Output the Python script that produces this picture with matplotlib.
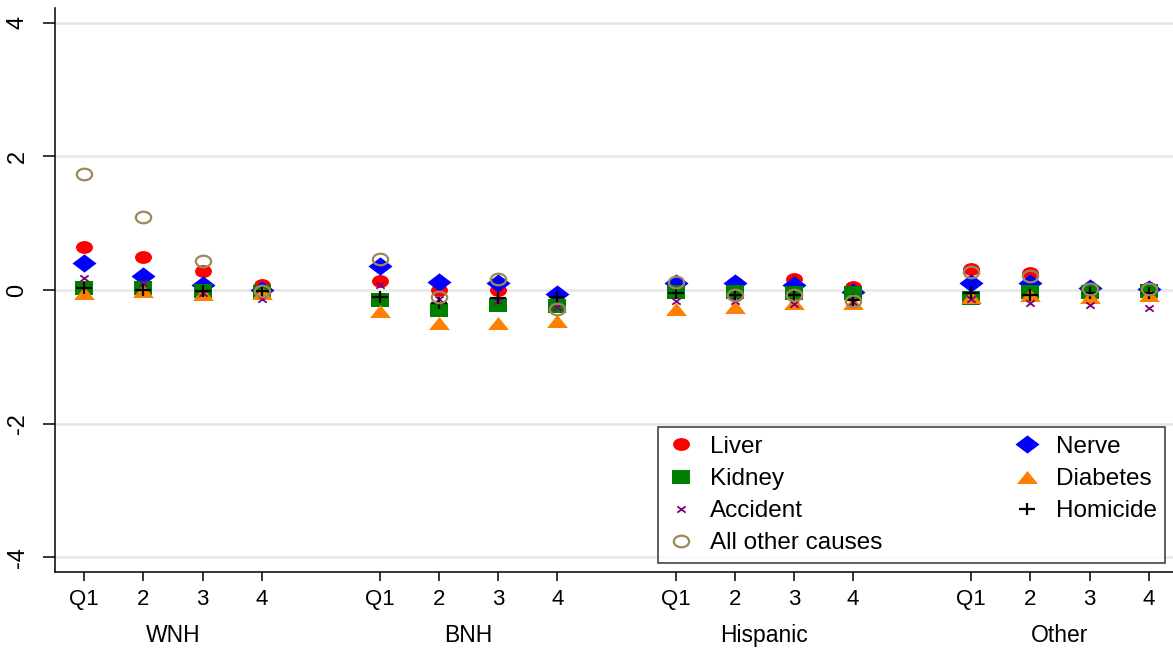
import numpy as np
import matplotlib
matplotlib.use("Agg")
import matplotlib.pyplot as plt
from matplotlib.path import Path
from matplotlib.transforms import Affine2D, blended_transform_factory

plt.rcParams['font.family'] = ['Liberation Sans', 'DejaVu Sans']

groups = ["WNH", "BNH", "Hispanic", "Other"]
quartiles = ["Q1", "2", "3", "4"]

# effects by group (WNH, BNH, Hispanic, Other) x quartile (Q1..4)
liver = [0.64, 0.50, 0.29, 0.08,
         0.13, 0.00, 0.00, -0.18,
         0.10, 0.10, 0.16, 0.05,
         0.32, 0.25, 0.02, 0.03]
nerve = [0.41, 0.21, 0.08, 0.00,
         0.36, 0.12, 0.10, -0.06,
         0.10, 0.10, 0.07, -0.03,
         0.11, 0.10, 0.03, 0.01]
kidney = [0.03, 0.03, -0.02, -0.03,
          -0.15, -0.30, -0.22, -0.24,
          -0.03, -0.03, -0.05, -0.05,
          -0.12, -0.03, -0.03, -0.02]
diabetes = [-0.05, -0.02, -0.06, -0.05,
            -0.31, -0.50, -0.50, -0.46,
            -0.29, -0.25, -0.19, -0.19,
            -0.10, -0.07, -0.10, -0.07]
accident = [0.18, 0.10, -0.05, -0.13,
            0.08, -0.13, -0.17, -0.26,
            -0.17, -0.17, -0.21, -0.18,
            -0.13, -0.19, -0.23, -0.27]
homicide = [0.03, 0.00, -0.02, -0.02,
            -0.10, -0.20, -0.12, -0.10,
            -0.05, -0.07, -0.07, -0.15,
            -0.05, -0.07, -0.05, -0.05]
other_causes = [1.74, 1.09, 0.43, -0.02,
                0.47, -0.10, 0.16, -0.29,
                0.12, -0.07, -0.07, -0.17,
                0.27, 0.21, 0.01, 0.02]

# x positions: 4 quartiles per group, one empty slot between groups
xpos = [g * 5 + q + 1 for g in range(len(groups)) for q in range(len(quartiles))]

# markers are a bit wider than tall
sx = 1.32
ellipse = Path.unit_circle().transformed(Affine2D().scale(sx, 1.0))
square = Path([(-sx, -1), (sx, -1), (sx, 1), (-sx, 1), (-sx, -1)],
              [Path.MOVETO, Path.LINETO, Path.LINETO, Path.LINETO, Path.CLOSEPOLY])
diamond = Path([(0, 1), (sx, 0), (0, -1), (-sx, 0), (0, 1)],
               [Path.MOVETO, Path.LINETO, Path.LINETO, Path.LINETO, Path.CLOSEPOLY])
triangle = Path([(0, 0.5), (0.8, -0.5), (-0.8, -0.5), (0, 0.5)],
                [Path.MOVETO, Path.LINETO, Path.LINETO, Path.CLOSEPOLY])
cross = Path([(-sx, -1), (sx, 1), (-sx, 1), (sx, -1)],
             [Path.MOVETO, Path.LINETO, Path.MOVETO, Path.LINETO])
plus = Path([(-1.2, 0), (1.2, 0), (0, -1), (0, 1)],
            [Path.MOVETO, Path.LINETO, Path.MOVETO, Path.LINETO])

fig = plt.figure(figsize=(11.73, 6.5), dpi=100)
ax = fig.add_axes([55 / 1173, 78 / 650, 1 - 55 / 1173, 564 / 650])

h = {}
h['Liver'], = ax.plot(xpos, liver, ls='none', marker=ellipse, ms=12.2,
                      mfc='#ff0000', mec='#ff0000', mew=0)
h['Nerve'], = ax.plot(xpos, nerve, ls='none', marker=diamond, ms=17.3,
                      mfc='#0000ff', mec='#0000ff', mew=0)
h['Kidney'], = ax.plot(xpos, kidney, ls='none', marker=square, ms=13,
                       mfc='#008000', mec='#008000', mew=0)
h['Diabetes'], = ax.plot(xpos, diabetes, ls='none', marker=triangle, ms=15,
                         mfc='#ff8000', mec='#ff8000', mew=0)
h['Accident'], = ax.plot(xpos, accident, ls='none', marker=cross, ms=6,
                         mec='#800080', mew=1.3)
h['Homicide'], = ax.plot(xpos, homicide, ls='none', marker=plus, ms=11,
                         mec='black', mew=1.6)
h['All other causes'], = ax.plot(xpos, other_causes, ls='none', marker=ellipse,
                                 ms=11, mfc='none', mec='#9c8858', mew=1.6)

ax.set_xlim(0.505, 19.41)
ax.set_ylim(-4.22, 4.22)
ax.set_yticks([-4, -2, 0, 2, 4])
ax.set_yticklabels(["-4", "-2", "0", "2", "4"], rotation=90, va='center', fontsize=17)
ax.set_xticks(xpos)
ax.set_xticklabels(quartiles * len(groups), fontsize=16)
ax.tick_params(axis='y', length=9, width=1.1, pad=10)
ax.tick_params(axis='x', length=6.5, width=1.1, pad=6)
ax.grid(axis='y', color='#e6e6e6', lw=1.8)
ax.set_axisbelow(True)
for side in ['top', 'right']:
    ax.spines[side].set_visible(False)
for side in ['left', 'bottom']:
    ax.spines[side].set_linewidth(1.1)

# group names under the quartile labels
trans = blended_transform_factory(ax.transData, ax.transAxes)
for g, name in enumerate(groups):
    ax.text(g * 5 + 2.5, -0.113, name, transform=trans, ha='center', va='center',
            fontsize=16.5)

order = ['Liver', 'Kidney', 'Accident', 'All other causes', 'Nerve', 'Diabetes', 'Homicide']
leg = ax.legend([h[k] for k in order], order, ncol=2, mode='expand',
                bbox_to_anchor=(0.539, 0.016, 0.454, 0.257), loc='lower left',
                fontsize=17.5, frameon=True, fancybox=False, edgecolor='black',
                borderpad=0.35, labelspacing=0.42, handletextpad=0.6,
                handlelength=1.2, borderaxespad=0)
leg.get_frame().set_linewidth(1.1)

fig.savefig("out.png", dpi=100)
